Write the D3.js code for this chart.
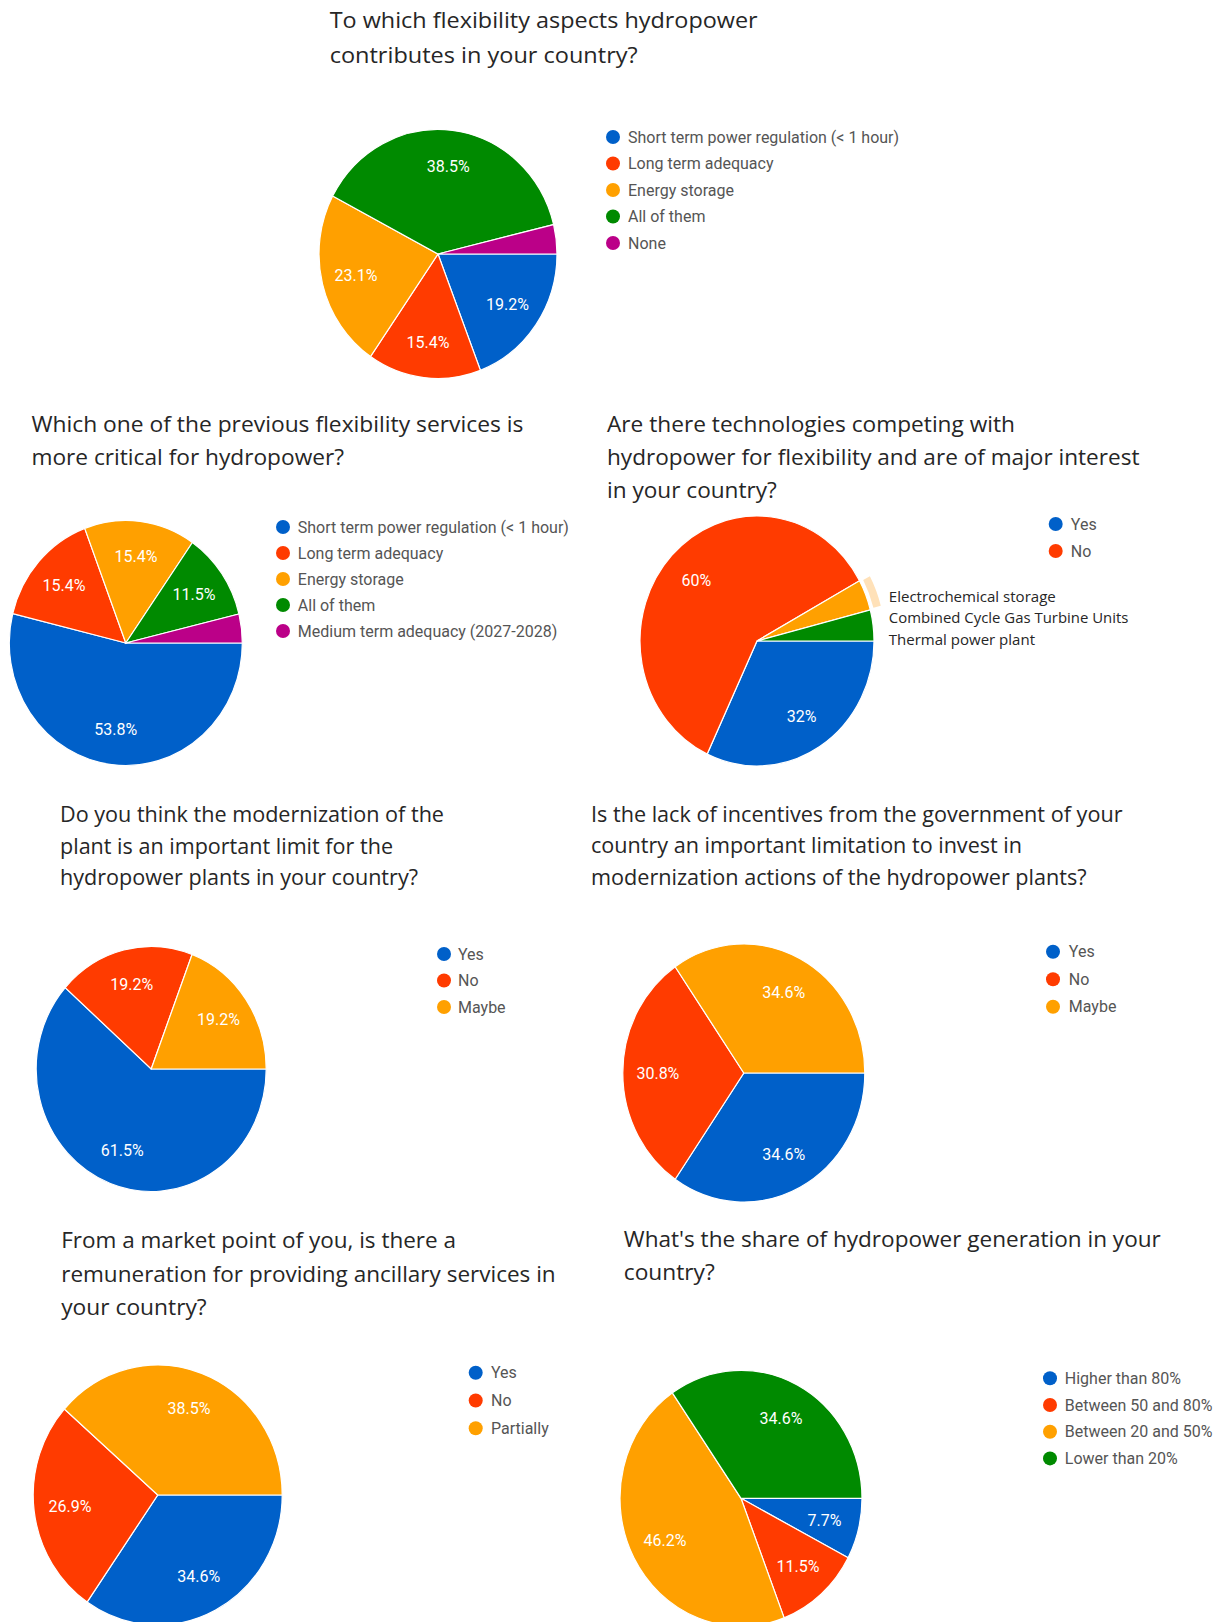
<!DOCTYPE html>
<html><head><meta charset="utf-8">
<script src="https://cdn.jsdelivr.net/npm/d3@7"></script>
<style>body{margin:0;background:#fff} svg{display:block}</style>
</head><body>
<svg id="c" width="1223" height="1622"></svg>
<script>
// ---------- data ----------
const q1Title = ["To which flexibility aspects hydropower", "contributes in your country?"];
const q1Categories = ["Short term power regulation (< 1 hour)", "Long term adequacy", "Energy storage", "All of them", "None"];
const q1Values = [19.2, 15.4, 23.1, 38.5, 3.8];

const q2Title = ["Which one of the previous flexibility services is", "more critical for hydropower?"];
const q2Categories = ["Short term power regulation (< 1 hour)", "Long term adequacy", "Energy storage", "All of them", "Medium term adequacy (2027-2028)"];
const q2Values = [53.8, 15.4, 15.4, 11.5, 3.8];

const q3Title = ["Are there technologies competing with", "hydropower for flexibility and are of major interest", "in your country?"];
const q3Categories = ["Yes", "No"];
const q3Values = [32, 60, 4, 4];
const q3OtherAnswers = ["Electrochemical storage", "Combined Cycle Gas Turbine Units", "Thermal power plant"];

const q4Title = ["Do you think the modernization of the", "plant is an important limit for the", "hydropower plants in your country?"];
const q4Categories = ["Yes", "No", "Maybe"];
const q4Values = [61.5, 19.2, 19.2];

const q5Title = ["Is the lack of incentives from the government of your", "country an important limitation to invest in", "modernization actions of the hydropower plants?"];
const q5Categories = ["Yes", "No", "Maybe"];
const q5Values = [34.6, 30.8, 34.6];

const q6Title = ["From a market point of you, is there a", "remuneration for providing ancillary services in", "your country?"];
const q6Categories = ["Yes", "No", "Partially"];
const q6Values = [34.6, 26.9, 38.5];

const q7Title = ["What's the share of hydropower generation in your", "country?"];
const q7Categories = ["Higher than 80%", "Between 50 and 80%", "Between 20 and 50%", "Lower than 20%"];
const q7Values = [7.7, 11.5, 46.2, 34.6];

const palette = ["#0060c9", "#ff3b00", "#ffa000", "#008a00", "#bb0088"];

// ---------- layout ----------
const panels = [
  {title:q1Title, cats:q1Categories, vals:q1Values, tx:329.7, tb:[28.3,62.5], tw:[428,308],
   cx:438, cy:254, rx:119, ry:124.5, lx:613, ltx:628, ly:137, ls:26.5},
  {title:q2Title, cats:q2Categories, vals:q2Values, tx:31.4, tb:[431.7,465], tw:[492,312.6],
   cx:125.8, cy:643, rx:116.5, ry:122.5, lx:283, ltx:297.8, ly:527, ls:26},
  {title:q3Title, cats:q3Categories, vals:q3Values, tx:607, tb:[432,465,498], tw:[408,532.5,169.8],
   cx:757, cy:641, rx:117, ry:125, lx:1055.7, ltx:1070.8, ly:524, ls:27, highlight:2},
  {title:q4Title, cats:q4Categories, vals:q4Values, tx:60, tb:[822,853.5,885], tw:[384,333,358],
   cx:151.2, cy:1069, rx:115, ry:122.5, lx:444, ltx:458, ly:954, ls:26.5},
  {title:q5Title, cats:q5Categories, vals:q5Values, tx:591, tb:[821.7,853,885], tw:[531.5,431,495.7],
   cx:743.8, cy:1073, rx:121, ry:129, lx:1053, ltx:1068.8, ly:951.7, ls:27.5},
  {title:q6Title, cats:q6Categories, vals:q6Values, tx:61.2, tb:[1248,1281.7,1315], tw:[394.8,494.5,145.5],
   cx:157.7, cy:1495, rx:124.5, ry:130, lx:475.7, ltx:491, ly:1372.7, ls:27.8},
  {title:q7Title, cats:q7Categories, vals:q7Values, tx:623.8, tb:[1246.7,1280], tw:[537,91],
   cx:741, cy:1498.3, rx:121, ry:128, lx:1050, ltx:1064.8, ly:1378.3, ls:26.7}
];

const svg = d3.select("#c");
const R = 100;
const pie = d3.pie().sort(null).value(d => d).startAngle(Math.PI/2).endAngle(Math.PI/2 + 2*Math.PI);
const arc = d3.arc().innerRadius(0).outerRadius(R);
const labelArc = d3.arc().innerRadius(R*0.71).outerRadius(R*0.71);
const ringArc = d3.arc().innerRadius(R*1.03).outerRadius(R*1.095);

panels.forEach(p => {
  const g = svg.append("g");
  // title
  p.title.forEach((line, i) => {
    g.append("text").attr("x", p.tx).attr("y", p.tb[i])
      .attr("font-family", "'Open Sans', sans-serif").attr("font-size", 21)
      .attr("fill", "#262626")
      .attr("textLength", p.tw[i]).attr("lengthAdjust", "spacingAndGlyphs")
      .text(line);
  });
  // pie
  const arcs = pie(p.vals);
  const pg = g.append("g").attr("transform", `translate(${p.cx},${p.cy}) scale(${p.rx/R},${p.ry/R})`);
  if (p.highlight !== undefined) {
    const a = arcs[p.highlight];
    pg.append("path").attr("d", ringArc({startAngle:a.startAngle+0.01, endAngle:a.endAngle-0.01}))
      .attr("fill", "#ffe1b8");
  }
  pg.selectAll("path.s").data(arcs).join("path").attr("class","s")
    .attr("d", arc).attr("fill", (d,i) => palette[i])
    .attr("stroke", "#fff").attr("stroke-width", 1.2).attr("vector-effect", "non-scaling-stroke");
  // labels
  g.selectAll("text.l").data(arcs.filter(d => d.data > 5)).join("text").attr("class","l")
    .attr("x", d => p.cx + labelArc.centroid(d)[0]*p.rx/R)
    .attr("y", d => p.cy + labelArc.centroid(d)[1]*p.ry/R)
    .attr("dy", "0.36em").attr("text-anchor", "middle")
    .attr("font-family", "Roboto, Arial, sans-serif").attr("font-size", 16)
    .attr("fill", "#fff").text(d => d.data + "%");
  // legend
  const lg = g.selectAll("g.lg").data(p.cats).join("g").attr("class","lg")
    .attr("transform", (d,i) => `translate(0,${p.ly + i*p.ls})`);
  lg.append("circle").attr("cx", p.lx).attr("cy", 0).attr("r", 7).attr("fill", (d,i) => palette[i]);
  lg.append("text").attr("x", p.ltx).attr("y", 0).attr("dy", "0.36em")
    .attr("font-family", "Roboto, Arial, sans-serif").attr("font-size", 16)
    .attr("fill", "#555").text(d => d);
});

// other answers pasted next to Q3
const otherBase = [601.7, 623, 645];
const otherW = [167, 239.6, 146.2];
svg.selectAll("text.oth").data(q3OtherAnswers).join("text").attr("class","oth")
  .attr("x", 888.8).attr("y", (d,i) => otherBase[i])
  .attr("font-family", "'Open Sans', sans-serif").attr("font-size", 14.5)
  .attr("fill", "#262626")
  .attr("textLength", (d,i) => otherW[i]).attr("lengthAdjust", "spacingAndGlyphs")
  .text(d => d);
</script>
</body></html>
